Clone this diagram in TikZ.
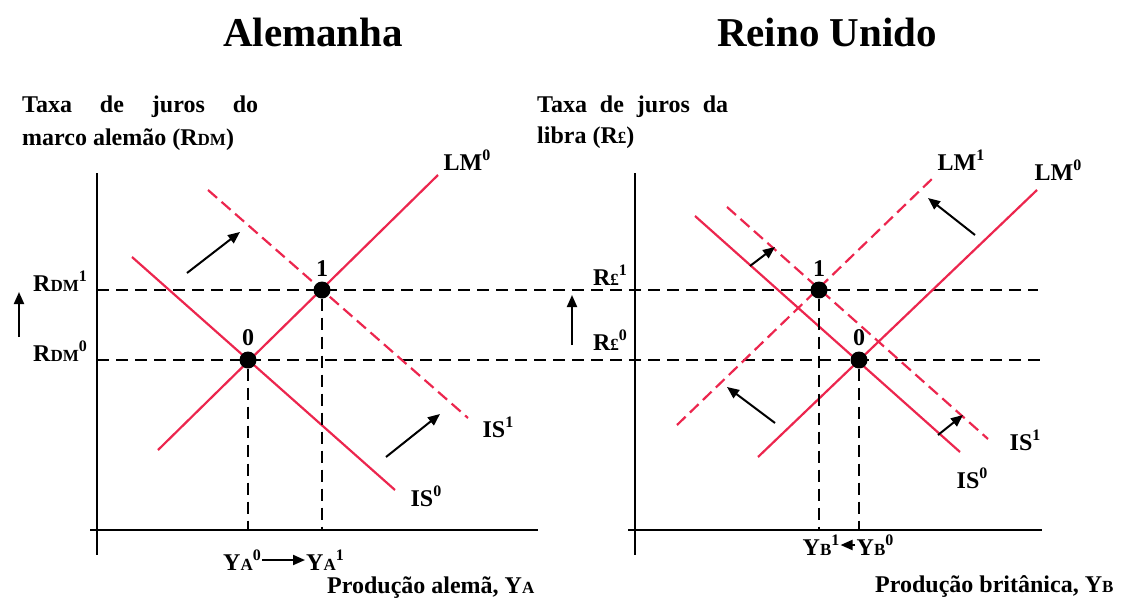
\documentclass[tikz,border=0pt]{standalone}
\usepackage{fontspec}
\setmainfont{Liberation Serif}
\usetikzlibrary{arrows.meta,positioning}
\definecolor{curvered}{RGB}{236,38,78}
\newcommand{\lo}[1]{{\fontsize{17}{17}\selectfont #1}}
\newcommand{\hi}[1]{\raisebox{0.42em}{\fontsize{16}{16}\selectfont #1}}

\begin{document}
\begin{tikzpicture}[
  x=1pt, y=-1pt,
  axis/.style={line width=2pt},
  curve/.style={curvered, line width=2.2pt},
  shifted/.style={curve, dash pattern=on 12pt off 6pt},
  guide/.style={line width=2pt, dash pattern=on 12pt off 7pt},
  shiftarrow/.style={-{Triangle[length=12pt,width=10pt]}, line width=2pt},
  eqpt/.style={circle, fill, inner sep=0pt, minimum size=17pt},
  lbl/.style={font=\fontsize{24}{24}\selectfont\bfseries, inner sep=0pt},
  title/.style={font=\fontsize{41}{41}\selectfont\bfseries, inner sep=0pt}
]
\useasboundingbox (0,0) rectangle (1126,597);

% Alemanha
\coordinate (oA) at (97,530);
\coordinate (yAtop) at (97,173);
\coordinate (yAbot) at (97,555);
\coordinate (xAleft) at (90,530);
\coordinate (xAend) at (538,530);
\draw[axis] (yAtop) -- (yAbot);
\draw[axis] (xAleft) -- (xAend);

\coordinate (isA0s) at (132,257);
\coordinate (isA0e) at (395,490);
\coordinate (lmA0s) at (158,450);
\coordinate (lmA0e) at (438,175);
\coordinate (isA1s) at (208,190);
\coordinate (isA1e) at (468,418);

% Reino Unido
\coordinate (oB) at (635,530);
\coordinate (yBtop) at (635,173);
\coordinate (yBbot) at (635,555);
\coordinate (xBleft) at (628,530);
\coordinate (xBend) at (1042,530);
\draw[axis] (yBtop) -- (yBbot);
\draw[axis] (xBleft) -- (xBend);

\coordinate (isB0s) at (695,216);
\coordinate (isB0e) at (960,452);
\coordinate (isB1s) at (727,207);
\coordinate (isB1e) at (988,439);
\coordinate (lmB0s) at (758,457);
\coordinate (lmB0e) at (1037,190);
\coordinate (lmB1s) at (677,425);
\coordinate (lmB1e) at (935,176);

% taxas de juros
\coordinate (r1L) at (97,290);
\coordinate (r1R) at (1038,290);
\coordinate (r0L) at (97,360);
\coordinate (r0R) at (1042,360);
\draw[guide] (r1L) -- (r1R);
\draw[guide] (r0L) -- (r0R);

\draw[curve] (isA0s) -- (isA0e);
\draw[curve] (lmA0s) -- (lmA0e);
\draw[shifted] (isA1s) -- (isA1e);
\draw[curve] (isB0s) -- (isB0e);
\draw[curve] (lmB0s) -- (lmB0e);
\draw[shifted] (isB1s) -- (isB1e);
\draw[shifted] (lmB1s) -- (lmB1e);

\node[eqpt] (eA0) at (248,360) {};
\node[eqpt] (eA1) at (322,290) {};
\node[eqpt] (eB1) at (819,290) {};
\node[eqpt] (eB0) at (859,360) {};
\draw[guide] (eA0) -- (eA0 |- oA);
\draw[guide] (eA1) -- (eA1 |- oA);
\draw[guide] (eB1) -- (eB1 |- oB);
\draw[guide] (eB0) -- (eB0 |- oB);

\node[lbl, above=5pt of eA0] {0};
\node[lbl, above=5pt of eA1] {1};
\node[lbl, above=5pt of eB1] {1};
\node[lbl, above=5pt of eB0] {0};

% deslocamentos
\coordinate (shA1s) at (187,273);
\coordinate (shA1e) at (240,232);
\coordinate (shA2s) at (386,457);
\coordinate (shA2e) at (440,414);
\coordinate (shB1s) at (750,266);
\coordinate (shB1e) at (775,247);
\coordinate (shB2s) at (938,435);
\coordinate (shB2e) at (963,415);
\coordinate (shB3s) at (975,235);
\coordinate (shB3e) at (928,198);
\coordinate (shB4s) at (775,423);
\coordinate (shB4e) at (727,387);
\draw[shiftarrow] (shA1s) -- (shA1e);
\draw[shiftarrow] (shA2s) -- (shA2e);
\draw[shiftarrow] (shB1s) -- (shB1e);
\draw[shiftarrow] (shB2s) -- (shB2e);
\draw[shiftarrow] (shB3s) -- (shB3e);
\draw[shiftarrow] (shB4s) -- (shB4e);

\coordinate (upAs) at (19,337);
\coordinate (upAe) at (19,292);
\coordinate (upBs) at (572,345);
\coordinate (upBe) at (572,295);
\draw[shiftarrow] (upAs) -- (upAe);
\draw[shiftarrow] (upBs) -- (upBe);

% textos
\node[title] (titA) at (313,32) {Alemanha};
\node[title] (titB) at (827,32) {Reino Unido};

\node[lbl, anchor=base west] (axA1) at (22,112) {\makebox[236pt][s]{Taxa de juros do}};
\node[lbl, anchor=base west] (axA2) at (22,145) {marco alemão (R\lo{DM})};
\node[lbl, anchor=base west] (axB1) at (537,112) {\makebox[191pt][s]{Taxa de juros da}};
\node[lbl, anchor=base west] (axB2) at (537,143) {libra (R\lo{£})};

\node[lbl] (rA1) at (60,281) {R\lo{DM}\hi{1}};
\node[lbl] (rA0) at (60,351) {R\lo{DM}\hi{0}};
\node[lbl] (rB1) at (610,275) {R\lo{£}\hi{1}};
\node[lbl] (rB0) at (610,340) {R\lo{£}\hi{0}};

\node[lbl] (lmA0) at (467,160) {LM\hi{0}};
\node[lbl] (isA1) at (498,427) {IS\hi{1}};
\node[lbl] (isA0) at (426,496) {IS\hi{0}};
\node[lbl] (lmB1) at (961,160) {LM\hi{1}};
\node[lbl] (lmB0) at (1058,170) {LM\hi{0}};
\node[lbl] (isB1) at (1025,440) {IS\hi{1}};
\node[lbl] (isB0) at (972,478) {IS\hi{0}};

\node[lbl, inner sep=1pt] (yA0) at (242,560) {Y\lo{A}\hi{0}};
\node[lbl, inner sep=1pt] (yA1) at (325,560) {Y\lo{A}\hi{1}};
\draw[shiftarrow] (yA0) -- (yA1);
\node[lbl, inner sep=1pt] (yB1) at (821,545) {Y\lo{B}\hi{1}};
\node[lbl, inner sep=1pt] (yB0) at (875,545) {Y\lo{B}\hi{0}};
\draw[shiftarrow] (yB0) -- (yB1);

\node[lbl, anchor=base west] (prA) at (327,593) {Produção alemã, Y\lo{A}};
\node[lbl, anchor=base west] (prB) at (875,592) {Produção britânica, Y\lo{B}};
\end{tikzpicture}
\end{document}
